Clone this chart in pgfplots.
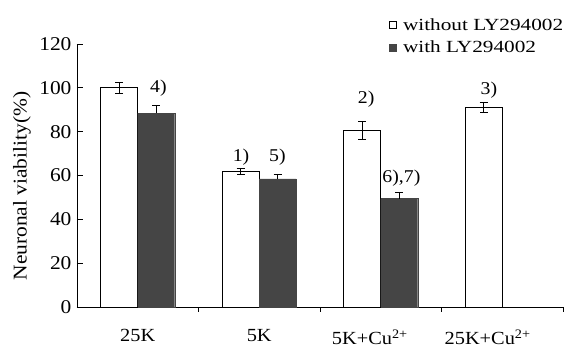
\documentclass[border=0pt]{standalone}
\usepackage{fontspec}
\setmainfont{Liberation Serif}[FakeStretch=1.1]
\newfontfamily\legfont{Liberation Serif}[FakeStretch=1.25]
\usepackage{pgfplots}
\pgfplotsset{compat=1.18}
\definecolor{darkbar}{gray}{0.27}
\begin{document}
\begin{tikzpicture}
\begin{axis}[
  scale only axis, width=486pt, height=263pt,
  xmin=-0.5, xmax=3.5, ymin=0, ymax=120,
  axis lines=left,
  axis line style={line width=0.8pt,-},
  tick align=inside,
  ytick={0,20,...,120},
  xtick={0,1,1.91,2.88},
  xticklabels={25K,5K,5K+Cu\textsuperscript{2+},25K+Cu\textsuperscript{2+}},
  major x tick style={draw=none},
  minor xtick={0.5,1.5,2.5,3.5},
  minor tick length=5pt, major tick length=6pt,
  every tick/.style={black,line width=0.8pt},
  /pgf/number format/assume math mode=true,
  yticklabel style={font=\fontsize{19.5}{22}\selectfont, xshift=-2pt},
  xticklabel style={font=\fontsize{18.5}{22}\selectfont, yshift=-13pt},
  ylabel={Neuronal viability(\%)},
  ylabel style={font=\fontsize{19.5}{22}\selectfont, at={(axis description cs:-0.113,0.46)}, anchor=center},
  ybar=0pt, bar width=37pt,
  legend style={at={(axis description cs:1.005,1.105)}, anchor=north east, draw=none, fill=none,
    font=\legfont\fontsize{17}{19}\selectfont, row sep=5pt, inner sep=0pt},
  legend cell align=left,
  legend image code/.code={\draw[#1,line width=0.6pt] (0pt,-3.5pt) rectangle (7pt,3.5pt); \path (11pt,0pt);},
  clip=false,
]
\addplot[fill=white, draw=black, line width=0.8pt,
  error bars/.cd, y dir=both, y explicit,
  error bar style={line width=0.8pt, black},
  error mark options={rotate=90, mark size=4pt, line width=0.8pt, black}]
  coordinates {(0,100) +- (0,2.5) (1,62) +- (0,1.3) (2,80.5) +- (0,4) (3,91) +- (0,2.3)};
\addlegendentry{without LY294002}
\addplot[fill=darkbar, draw=darkbar, line width=0.4pt,
  error bars/.cd, y dir=plus, y explicit,
  error bar style={line width=0.8pt, black},
  error mark options={rotate=90, mark size=4pt, line width=0.8pt, black}]
  coordinates {(0,88.5) +- (0,3.5) (1,58.5) +- (0,1.8) (2,49.5) +- (0,2.7)};
\addlegendentry{with LY294002}
\node[font=\fontsize{18}{20}\selectfont] at (axis cs:0.17,100) {4)};
\node[font=\fontsize{18}{20}\selectfont] at (axis cs:0.85,68.5) {1)};
\node[font=\fontsize{18}{20}\selectfont] at (axis cs:1.15,68.5) {5)};
\node[font=\fontsize{18}{20}\selectfont] at (axis cs:1.88,95) {2)};
\node[font=\fontsize{18}{20}\selectfont] at (axis cs:2.17,59) {6),7)};
\node[font=\fontsize{18}{20}\selectfont] at (axis cs:2.89,99) {3)};
\coordinate (O) at (rel axis cs:0,0);
\end{axis}
\pgfresetboundingbox
\path[use as bounding box] (O) ++(-77pt,-40pt) rectangle ++(566pt,347pt);
\end{tikzpicture}
\end{document}
